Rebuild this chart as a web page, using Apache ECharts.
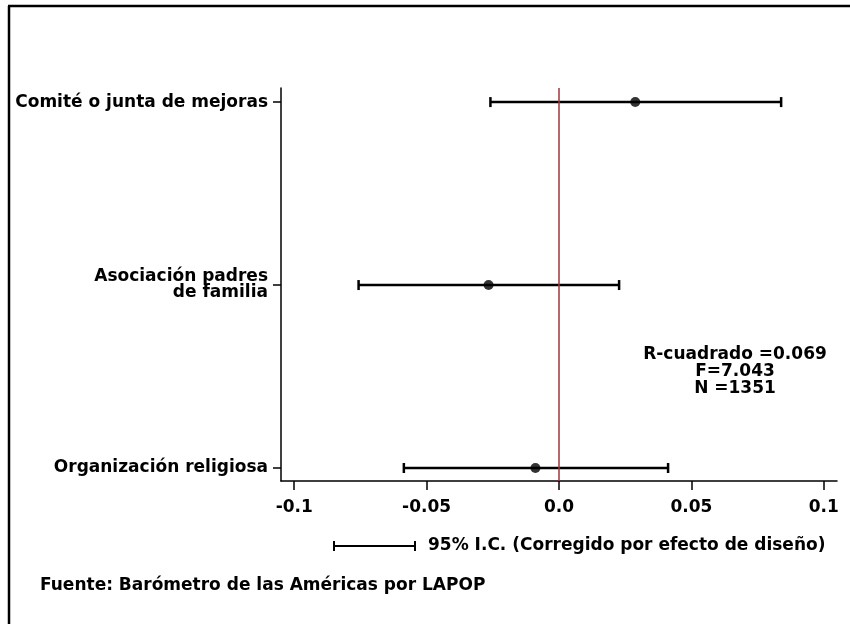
<!DOCTYPE html>
<html>
<head>
<meta charset="utf-8">
<style>
html,body{margin:0;padding:0;background:#fff;}
#c{width:850px;height:624px;}
</style>
<script src="https://cdn.jsdelivr.net/npm/echarts@6/dist/echarts.min.js"></script>
</head>
<body>
<div id="c"></div>
<script>
// Data (bottom to top)
const categories = ['Organización religiosa', 'Asociación padres\nde familia', 'Comité o junta de mejoras'];
const coef  = [-0.0089, -0.0266, 0.0288];
const lower = [-0.0586, -0.0757, -0.0259];
const upper = [ 0.0412,  0.0227, 0.0839];
const xTickValues = [-0.1, -0.05, 0, 0.05, 0.1];
const xTickLabels = ['-0.1', '-0.05', '0.0', '0.05', '0.1'];
const statsLines = ['R-cuadrado =0.069', 'F=7.043', 'N =1351'];
const legendText = '95% I.C. (Corregido por efecto de diseño)';
const sourceText = 'Fuente: Barómetro de las Américas por LAPOP';

const FONT = 'DejaVu Sans';
const chart = echarts.init(document.getElementById('c'), null, {renderer: 'canvas'});

const ciData = categories.map((c, i) => [i, lower[i], upper[i]]);
const ptData = categories.map((c, i) => [coef[i], i]);

chart.setOption({
  animation: false,
  backgroundColor: '#fff',
  grid: {left: 281, right: 13, top: 88, bottom: 143, containLabel: false},
  xAxis: {
    type: 'value', min: -0.105, max: 0.105,
    axisLine: {show: true, onZero: false, lineStyle: {color: '#000', width: 1.5}},
    axisTick: {show: true, length: 9, lineStyle: {color: '#000', width: 1.5}, customValues: xTickValues},
    axisLabel: {
      customValues: xTickValues,
      margin: 18,
      color: '#000', fontFamily: FONT, fontWeight: 'bold', fontSize: 17,
      formatter: v => { const k = xTickValues.findIndex(t => Math.abs(t - v) < 1e-9); return k >= 0 ? xTickLabels[k] : ''; }
    },
    splitLine: {show: false}
  },
  yAxis: {
    type: 'value', min: -0.071, max: 2.077,
    axisLine: {show: true, onZero: false, lineStyle: {color: '#000', width: 1.5}},
    axisTick: {show: true, length: 8, lineStyle: {color: '#000', width: 1.5}, customValues: [0, 1, 2]},
    axisLabel: {
      customValues: [0, 1, 2],
      margin: 13,
      color: '#000', fontFamily: FONT, fontWeight: 'bold', fontSize: 17, lineHeight: 16,
      align: 'right',
      formatter: v => categories[Math.round(v)] || ''
    },
    splitLine: {show: false}
  },
  series: [
    {
      type: 'line',
      data: [],
      markLine: {
        silent: true, symbol: 'none', label: {show: false},
        lineStyle: {color: '#a0353c', width: 1.5, type: 'solid'},
        data: [{xAxis: 0}]
      }
    },
    {
      type: 'custom',
      data: ciData,
      z: 3,
      renderItem: (params, api) => {
        const y = api.value(0);
        const a = api.coord([api.value(1), y]);
        const b = api.coord([api.value(2), y]);
        const h = 5;
        const st = {stroke: '#000', lineWidth: 2.5};
        return {type: 'group', children: [
          {type: 'line', shape: {x1: a[0], y1: a[1], x2: b[0], y2: b[1]}, style: st},
          {type: 'line', shape: {x1: a[0], y1: a[1] - h, x2: a[0], y2: a[1] + h}, style: st},
          {type: 'line', shape: {x1: b[0], y1: b[1] - h, x2: b[0], y2: b[1] + h}, style: st}
        ]};
      }
    },
    {
      type: 'scatter',
      data: ptData,
      z: 4,
      symbol: 'circle', symbolSize: 10,
      itemStyle: {color: '#000'}
    }
  ],
  graphic: [
    {type: 'line', shape: {x1: 9, y1: 6, x2: 9, y2: 624}, style: {stroke: '#000', lineWidth: 2.5}},
    {type: 'line', shape: {x1: 8, y1: 6, x2: 850, y2: 6}, style: {stroke: '#000', lineWidth: 2.5}},
    {type: 'text', x: 735, y: 346, style: {
      text: statsLines.join('\n'), fill: '#000', font: 'bold 17px "DejaVu Sans"', lineHeight: 17, align: 'center', verticalAlign: 'top'
    }},
    {type: 'line', shape: {x1: 334, y1: 546, x2: 415, y2: 546}, style: {stroke: '#000', lineWidth: 2}},
    {type: 'line', shape: {x1: 334, y1: 541, x2: 334, y2: 551}, style: {stroke: '#000', lineWidth: 2}},
    {type: 'line', shape: {x1: 415, y1: 541, x2: 415, y2: 551}, style: {stroke: '#000', lineWidth: 2}},
    {type: 'text', x: 428, y: 546, style: {
      text: legendText, fill: '#000', font: 'bold 17px "DejaVu Sans"', verticalAlign: 'middle'
    }},
    {type: 'text', x: 40, y: 586, style: {
      text: sourceText, fill: '#000', font: 'bold 17px "DejaVu Sans"', verticalAlign: 'middle'
    }}
  ]
});
</script>
</body>
</html>
